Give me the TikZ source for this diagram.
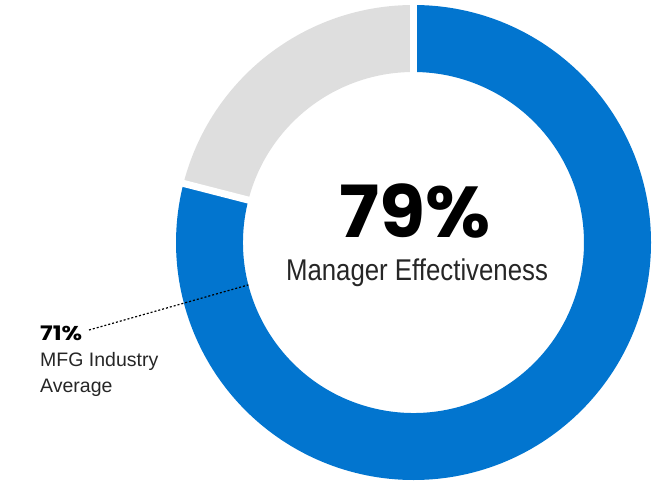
\documentclass[tikz,border=0pt]{standalone}
\usepackage{fontspec}
\setmainfont{Liberation Sans}
\newfontfamily\bigfont[FakeStretch=1.04]{Poppins}
\newfontfamily\smallpctfont[FakeStretch=1.18]{Poppins}
\newfontfamily\mainlbl[FakeStretch=0.86]{Liberation Sans}
\definecolor{mblue}{RGB}{2,117,207}
\definecolor{mgray}{RGB}{222,222,222}
\begin{document}
\begin{tikzpicture}[x=1pt,y=1pt,
  gapline/.style={white, line width=7pt},
  bigpct/.style={inner sep=0pt, anchor=base, text height=52pt, text depth=0pt, font=\bigfont\bfseries\fontsize{72}{72}\selectfont},
  sublbl/.style={inner sep=0pt, anchor=base, text height=22pt, text depth=6pt, font=\mainlbl\fontsize{30}{30}\selectfont, text=black!85},
  sidepct/.style={inner sep=0pt, anchor=base west, text height=14pt, text depth=0pt, font=\smallpctfont\bfseries\fontsize{20}{20}\selectfont},
  sidelbl/.style={inner sep=0pt, anchor=base west, text height=14pt, text depth=4pt, font=\fontsize{19.5}{19.5}\selectfont, text=black!85},
  dotline/.style={line width=1.2pt, dash pattern=on 2pt off 2pt}]
\useasboundingbox (0,0) rectangle (664,483);
\def\R{237.5}
\def\r{170.5}
\coordinate (c) at (413.5,240.5);
% blue 79%
\fill[mblue] ([shift={(c)}]90:\R) arc[start angle=90,end angle=-194.4,radius=\R]
  -- ([shift={(c)}]-194.4:\r) arc[start angle=-194.4,end angle=90,radius=\r] -- cycle;
% gray rest
\fill[mgray] ([shift={(c)}]90:\R) arc[start angle=90,end angle=165.6,radius=\R]
  -- ([shift={(c)}]165.6:\r) arc[start angle=165.6,end angle=90,radius=\r] -- cycle;
% gaps
\draw[gapline] ([shift={(c)}]90:\r-2) -- ([shift={(c)}]90:\R+2);
\draw[gapline] ([shift={(c)}]165.6:\r-2) -- ([shift={(c)}]165.6:\R+2);
% center texts
\node[bigpct] (pct) at (415,246) {79\%};
\node[sublbl] (mgr) at (417,203) {Manager Effectiveness};
% side label
\node[sidepct] (p71) at (40,143) {71\%};
\node[sidelbl] (mfg) at (40,117) {MFG Industry};
\node[sidelbl] (avg) at (40,91) {Average};
\coordinate (lstart) at (89,153);
\coordinate (avgpt) at ([shift={(c)}]194.4:\r);
\draw[dotline] (lstart) -- (avgpt);
\end{tikzpicture}
\end{document}
